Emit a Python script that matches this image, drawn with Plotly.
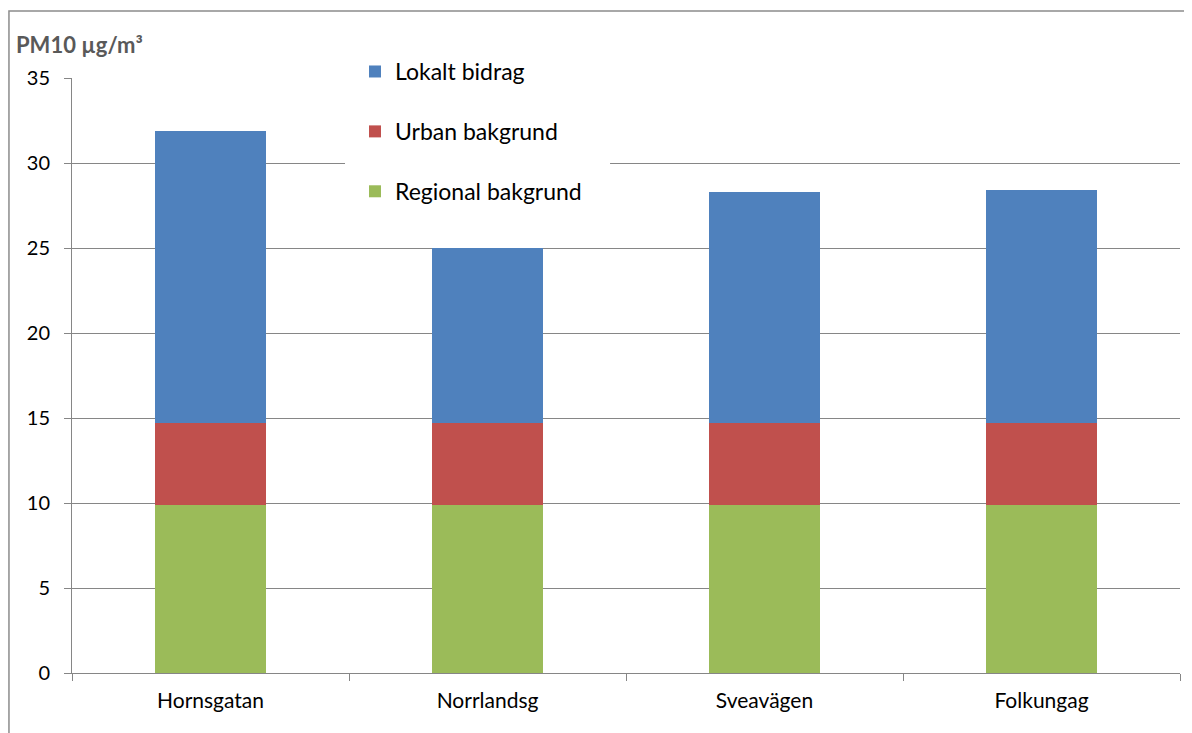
import plotly.graph_objects as go

categories = ["Hornsgatan", "Norrlandsg", "Sveavägen", "Folkungag"]
regional = [9.9, 9.9, 9.9, 9.9]
urban = [4.8, 4.8, 4.8, 4.8]
lokalt = [17.2, 10.3, 13.6, 13.7]
y_ticks = [0, 5, 10, 15, 20, 25, 30, 35]

FONT = "Lato, Open Sans, sans-serif"
GRID = "#868686"

fig = go.Figure()
series = [
    ("Regional bakgrund", regional, "#9BBB59", 3),
    ("Urban bakgrund", urban, "#C0504D", 2),
    ("Lokalt bidrag", lokalt, "#4F81BD", 1),
]
for name, vals, col, rank in series:
    fig.add_trace(go.Bar(x=categories, y=vals, name=name, marker_color=col,
                         marker_line_width=0, legendgroup=name, legendrank=rank))

fig.update_layout(
    width=1184, height=725,
    barmode="stack", bargap=0.6,
    paper_bgcolor="white", plot_bgcolor="white",
    margin=dict(l=64, r=12, t=70, b=60),
    font=dict(family=FONT, size=20, color="black"),
    showlegend=True,
    legend=dict(x=0.2554, y=1.047, xanchor="left", yanchor="top",
                traceorder="grouped", tracegroupgap=27,
                bgcolor="rgba(0,0,0,0)", borderwidth=0,
                font=dict(family=FONT, size=23, color="black")),
    xaxis=dict(showline=True, linecolor=GRID, linewidth=1, ticks="outside",
               tickson="boundaries", ticklen=7, tickcolor=GRID,
               showgrid=False, tickfont=dict(size=21), ticklabelstandoff=9),
    yaxis=dict(range=[0, 35], tickvals=y_ticks, showline=True, linecolor=GRID,
               linewidth=1, ticks="outside", ticklen=7, tickcolor=GRID,
               showgrid=True, gridcolor=GRID, gridwidth=1, zeroline=False,
               ticklabelstandoff=10, tickfont=dict(size=20)),
    shapes=[
        dict(type="rect", xref="paper", yref="paper", x0=0.2464, x1=0.4856,
             y0=0.75, y1=1.0555, fillcolor="white", line_width=0, layer="above"),
        dict(type="rect", xref="paper", yref="paper", x0=-0.0569, x1=1.05,
             y0=-0.2, y1=1.1126, fillcolor="rgba(0,0,0,0)",
             line=dict(color="#8c8c8c", width=1.5), layer="below"),
    ],
    annotations=[
        dict(text="<b>PM10 µg/m³</b>", xref="paper", yref="paper",
             x=(14 - 72) / 1108, y=(673 - 45) / 595, xanchor="left", yanchor="middle",
             showarrow=False, font=dict(family=FONT, size=22, color="#595959")),
    ],
)

fig.write_html("out.html")
